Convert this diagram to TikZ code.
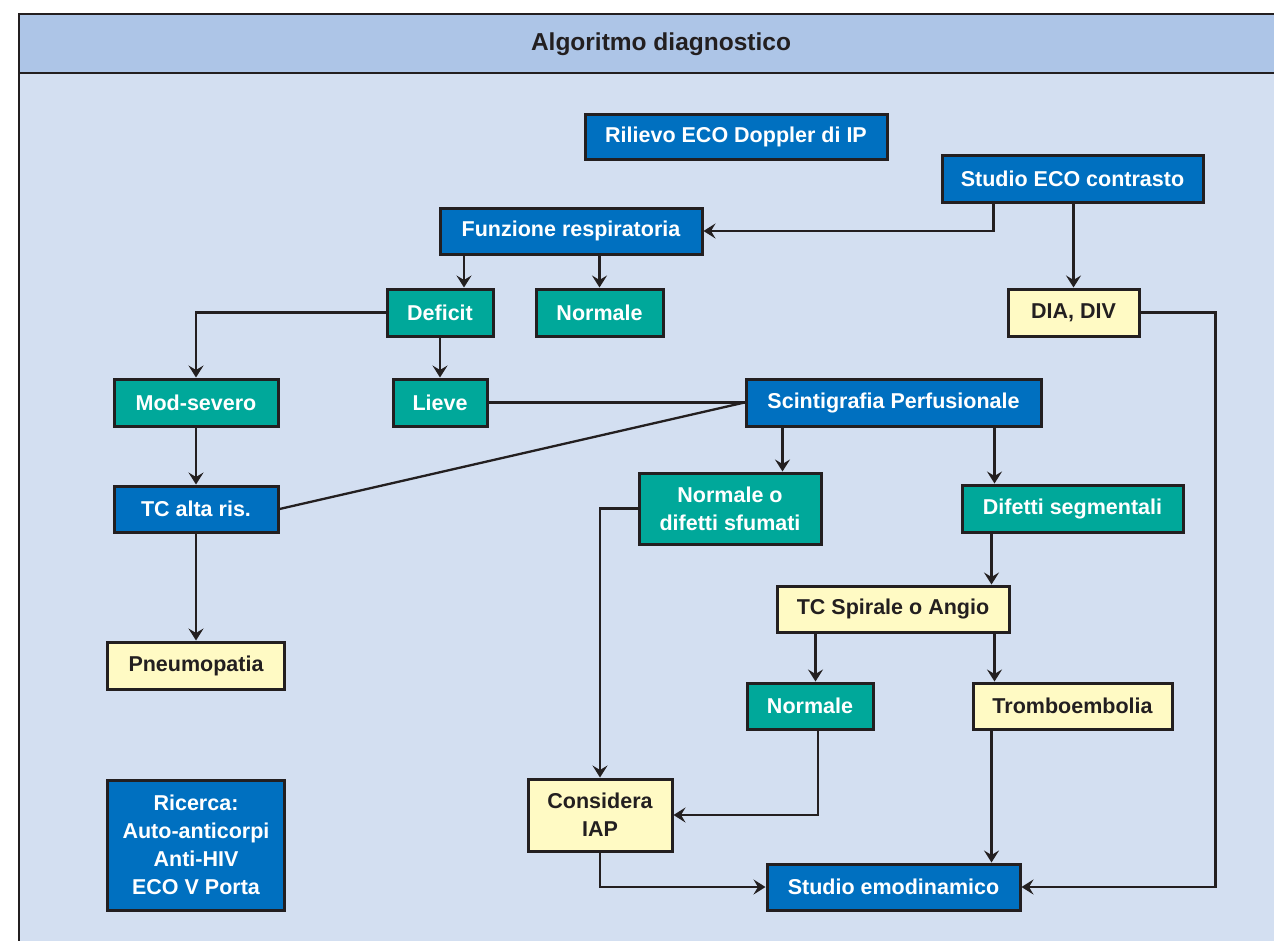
\documentclass[tikz,border=0pt]{standalone}
\usepackage{fontspec}
\setmainfont{Liberation Sans}
\usepackage{xcolor}
\usepackage{tikz}
\usetikzlibrary{arrows.meta}
\definecolor{titlec}{RGB}{173, 197, 231}
\definecolor{bodyc}{RGB}{211, 223, 241}
\definecolor{bluec}{RGB}{0, 112, 192}
\definecolor{tealc}{RGB}{0, 168, 154}
\definecolor{yelc}{RGB}{255, 250, 196}
\definecolor{inkc}{RGB}{35, 31, 32}

\begin{document}
\begin{tikzpicture}[x = 1pt, y = -1pt,
	box/.style = {draw = inkc, line width = 3pt, inner sep = 0pt, align = center,
		font = \fontsize{21.5}{28}\selectfont\bfseries},
	bluebox/.style = {box, fill = bluec, text = white},
	tealbox/.style = {box, fill = tealc, text = white},
	yelbox/.style = {box, fill = yelc, text = inkc},
	link/.style = {draw = inkc, line width = 2.3pt},
	arr/.style = {link, -{Stealth[length = 12pt, width = 15pt, inset = 4.5pt]}}]
			\useasboundingbox (0,0) rectangle (1274,940);
			\clip (0,0) rectangle (1274,940);
			% panel
			\fill[bodyc] (19,14) rectangle (1290,950);
			\fill[titlec] (19,14) rectangle (1290,73);
			\draw[inkc, line width = 1.8pt] (1290,14) -- (19,14) -- (19,950);
			\draw[inkc, line width = 1.8pt] (19,73) -- (1290,73);
			\node (t) at (661,44) [text = inkc, font = \fontsize{24.5}{28}\selectfont\bfseries] {Algoritmo diagnostico};
			% boxes
			\node (r) at (736,136.5) [bluebox, minimum width = 302pt, minimum height = 45pt] {Rilievo ECO Doppler di IP};
			\node (e) at (1072.5,178.5) [bluebox, minimum width = 261pt, minimum height = 47pt] {Studio ECO contrasto};
			\node (f) at (571,231) [bluebox, minimum width = 262pt, minimum height = 46pt] {Funzione respiratoria};
			\node (d) at (440,312.5) [tealbox, minimum width = 106pt, minimum height = 47pt] {Deficit};
			\node (n1) at (599.5,312.5) [tealbox, minimum width = 127pt, minimum height = 47pt] {Normale};
			\node (dd) at (1073.5,312.5) [yelbox, minimum width = 131pt, minimum height = 47pt] {DIA, DIV};
			\node (m) at (196,402.5) [tealbox, minimum width = 164pt, minimum height = 47pt] {Mod-severo};
			\node (l) at (440,402.5) [tealbox, minimum width = 94pt, minimum height = 47pt] {Lieve};
			\node (s) at (893.5,402.5) [bluebox, minimum width = 295pt, minimum height = 47pt] {Scintigrafia Perfusionale};
			\node (tc) at (196,509) [bluebox, minimum width = 164pt, minimum height = 46pt] {TC alta ris.};
			\node (nd) at (730,508.5) [tealbox, minimum width = 182pt, minimum height = 71pt] {Normale o\\difetti sfumati};
			\node (ds) at (1072.5,508.5) [tealbox, minimum width = 221pt, minimum height = 47pt] {Difetti segmentali};
			\node (p) at (196,665.5) [yelbox, minimum width = 177pt, minimum height = 47pt] {Pneumopatia};
			\node (ts) at (893,609) [yelbox, minimum width = 232pt, minimum height = 46pt] {TC Spirale o Angio};
			\node (n2) at (810,706) [tealbox, minimum width = 126pt, minimum height = 46pt] {Normale};
			\node (tr) at (1072.5,706) [yelbox, minimum width = 199pt, minimum height = 46pt] {Tromboembolia};
			\node (c) at (600,815) [yelbox, minimum width = 144pt, minimum height = 72pt] {Considera\\IAP};
			\node (q) at (196,845) [bluebox, minimum width = 177pt, minimum height = 130pt] {Ricerca:\\Auto-anticorpi\\Anti-HIV\\ECO V Porta};
			\node (h) at (893.5,887) [bluebox, minimum width = 253pt, minimum height = 46pt] {Studio emodinamico};
			% connectors
			\draw[arr] ([xshift = 53pt]e.south west) |- (f.east);
			\draw[arr] (e.south -| dd.north) -- (dd.north);
			\draw[arr] ([xshift = 24pt]d.north |- f.south) -- ([xshift = 24pt]d.north);
			\draw[arr] (f.south -| n1.north) -- (n1.north);
			\draw[arr] (d.west) -| (m.north);
			\draw[arr] (d.south) -- (l.north);
			\draw[arr] (m.south) -- (tc.north);
			\draw[arr] (tc.south) -- (p.north);
			\draw[link] (l.east) -- (s.west);
			\draw[link] (tc.east) -- (s.west);
			\draw[arr] ([xshift = 38pt]s.south west) -- ([xshift = 38pt]s.south west |- nd.north);
			\draw[arr] ([xshift = -48pt]s.south east) -- ([xshift = -48pt]s.south east |- ds.north);
			\draw[arr] ([xshift = 31pt]ds.south west) -- ([xshift = 31pt]ds.south west |- ts.north);
			\draw[arr] ([xshift = 40pt]ts.south west) -- ([xshift = 40pt]ts.south west |- n2.north);
			\draw[arr] ([xshift = -16pt]ts.south east) -- ([xshift = -16pt]ts.south east |- tr.north);
			\draw[arr] (nd.west) -| (c.north);
			\draw[arr] ([xshift = 8pt]n2.south) |- (c.east);
			\draw[arr] ([xshift = 20pt]tr.south west) -- ([xshift = 20pt]tr.south west |- h.north);
			\draw[arr] (c.south) |- (h.west);
			\draw[arr] (dd.east) -- ++(75pt,0) |- (h.east);
			\end{tikzpicture}
\end{document}
